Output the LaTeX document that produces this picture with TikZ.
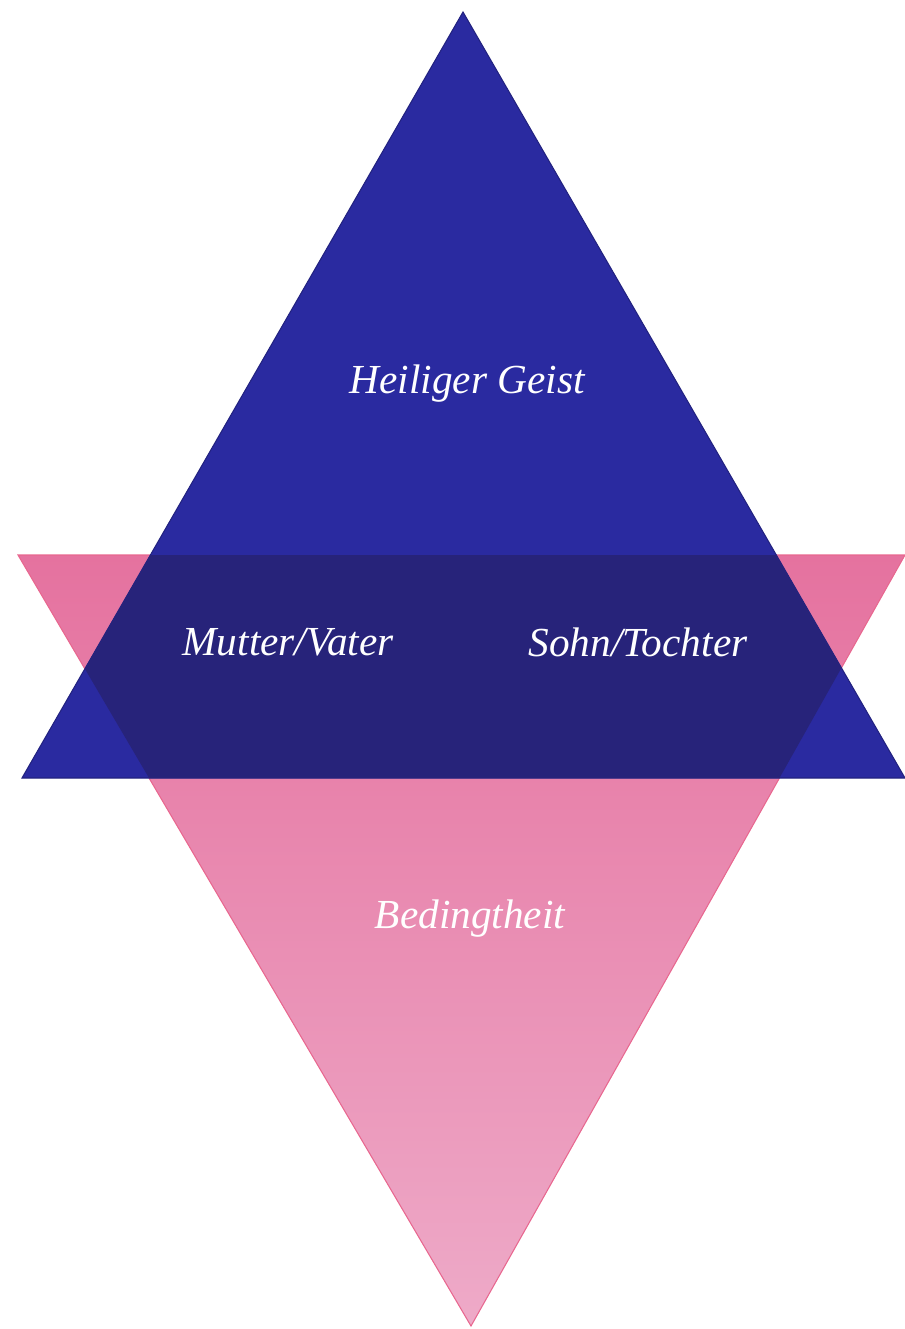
\documentclass[tikz,border=0pt]{standalone}
\usepackage{fontspec}
\setmainfont{Liberation Serif}
\usepackage{tikz}
\definecolor{Blau}{HTML}{2A2AA0}
\definecolor{Nacht}{HTML}{27237A}
\definecolor{Rosa}{HTML}{E5729F}
\definecolor{RosaHell}{HTML}{EEAAC8}

\begin{document}
\begin{tikzpicture}[
  x=0.02cm,y=-0.02cm,
  schrift/.style={text=white,font=\fontsize{23.5}{28}\selectfont\itshape,inner sep=0pt}
]
  \useasboundingbox (0,0) rectangle (905,1329);
  % Eckpunkte der beiden Dreiecke
  \coordinate (ro1) at (18,555);
  \coordinate (ro2) at (905,555);
  \coordinate (ro3) at (471,1326);
  \coordinate (bl1) at (22,778);
  \coordinate (bl2) at (905,778);
  \coordinate (bl3) at (463,12);

  % Dreieck nach unten: Bedingtheit
  \shade[top color=Rosa,bottom color=RosaHell,draw=Rosa!90!red,line width=0.6pt]
    (ro1)--(ro2)--(ro3)--cycle;
  % Dreieck nach oben: Heiliger Geist
  \fill[Blau,draw=Blau!80!black,line width=0.6pt] (bl1)--(bl2)--(bl3)--cycle;
  % Schnittflaeche
  \begin{scope}
    \clip (ro1)--(ro2)--(ro3)--cycle;
    \fill[Nacht] (bl1)--(bl2)--(bl3)--cycle;
  \end{scope}

  \node[schrift] (geist) at (467,384) {Heiliger Geist};
  \node[schrift] (eltern) at (288,642) {Mutter/Vater};
  \node[schrift] (kind) at (638,642) {Sohn/Tochter};
  \node[schrift] (bed) at (470,919) {Bedingtheit};
\end{tikzpicture}
\end{document}
